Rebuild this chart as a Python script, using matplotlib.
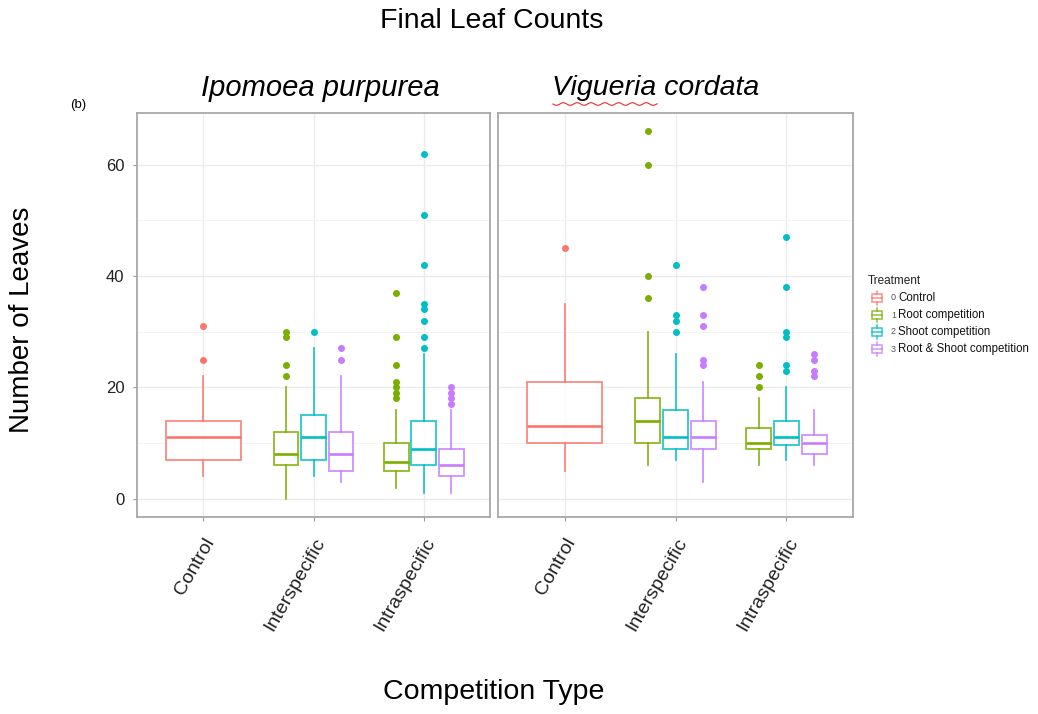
import numpy as np
import matplotlib.pyplot as plt
from matplotlib.patches import Rectangle

plt.rcParams["font.family"] = ["Liberation Sans", "DejaVu Sans"]

# categories
species = ["Ipomoea purpurea", "Vigueria cordata"]
comp_types = ["Control", "Interspecific", "Intraspecific"]
treatments = ["Control", "Root competition", "Shoot competition", "Root & Shoot competition"]
treat_codes = ["0", "1", "2", "3"]
treat_colors = ["#F8766D", "#7CAE00", "#00BFC4", "#C77CFF"]

# (competition type index, treatment index) for each box
groups = [(0, 0), (1, 1), (1, 2), (1, 3), (2, 1), (2, 2), (2, 3)]

# Ipomoea purpurea box statistics
ipo_q1 = [7, 6, 7, 5, 5, 6, 4]
ipo_med = [11, 8, 11, 8, 6.5, 9, 6]
ipo_q3 = [14, 12, 15, 12, 10, 14, 9]
ipo_lo = [4, 0, 4, 3, 2, 1, 1]
ipo_hi = [22, 20, 27, 22, 16, 26, 16]
ipo_fliers = [[25, 31], [22, 24, 29, 30], [30], [25, 27],
              [18, 19, 20, 21, 24, 29, 37],
              [27, 29, 32, 34, 35, 42, 51, 62], [17, 18, 19, 20]]

# Vigueria cordata box statistics
vig_q1 = [10, 10, 9, 9, 9, 9.7, 8]
vig_med = [13, 14, 11, 11, 10, 11, 10]
vig_q3 = [21, 18, 16, 14, 12.7, 14, 11.5]
vig_lo = [5, 6, 7, 3, 6, 7, 6]
vig_hi = [35, 30, 26, 21, 18, 20, 16]
vig_fliers = [[45], [36, 40, 60, 66], [30, 32, 33, 42], [24, 25, 31, 33, 38],
              [20, 22, 24], [23, 24, 29, 30, 38, 47], [22, 23, 25, 26]]

W, H = 1038, 714


def rect(x0, y0, x1, y1):
    # pixel box (top-left origin) -> figure fraction rect
    return [x0 / W, 1 - y1 / H, (x1 - x0) / W, (y1 - y0) / H]


def draw_panel(ax, q1, med, q3, lo, hi, fliers, show_y):
    for (c, t), a, m, b, l, h, f in zip(groups, q1, med, q3, lo, hi, fliers):
        if t == 0:
            pos, width = c + 1, 0.68
        else:
            pos, width = c + 1 + (t - 2) * 0.25, 0.225
        col = treat_colors[t]
        stats = [dict(q1=a, med=m, q3=b, whislo=l, whishi=h, fliers=f)]
        ax.bxp(stats, positions=[pos], widths=[width], showcaps=False,
               patch_artist=True, manage_ticks=False,
               boxprops=dict(facecolor="white", edgecolor=col, linewidth=1.3, alpha=0.85),
               medianprops=dict(color=col, linewidth=1.9, solid_capstyle="butt"),
               whiskerprops=dict(color=col, linewidth=1.3, alpha=0.85),
               flierprops=dict(marker="o", markerfacecolor=col, markeredgecolor=col,
                               markersize=4))
    ax.set_xlim(0.4, 3.6)
    ax.set_ylim(-3.3, 69.3)
    ax.set_yticks([0, 20, 40, 60])
    ax.set_yticks([10, 30, 50], minor=True)
    ax.set_xticks([1, 2, 3])
    ax.set_xticklabels(comp_types, rotation=60, ha="right", va="top",
                       rotation_mode="anchor")
    ax.grid(which="major", color="#ebebeb", linewidth=1)
    ax.grid(which="minor", axis="y", color="#f3f3f3", linewidth=0.7)
    ax.set_axisbelow(True)
    for s in ax.spines.values():
        s.set_color("#a8a8a8")
        s.set_linewidth(1.3)
    ax.tick_params(axis="x", length=3, color="#999999", labelsize=14,
                   labelcolor="#222222", pad=10)
    ax.tick_params(axis="y", which="major", length=3, color="#999999",
                   labelsize=12, labelcolor="#222222", pad=6)
    ax.tick_params(axis="y", which="minor", length=0)
    if not show_y:
        ax.tick_params(axis="y", length=0, labelleft=False)


fig = plt.figure(figsize=(W / 100, H / 100), dpi=100)

ax1 = fig.add_axes(rect(137, 113, 490, 517))
draw_panel(ax1, ipo_q1, ipo_med, ipo_q3, ipo_lo, ipo_hi, ipo_fliers, True)
ax2 = fig.add_axes(rect(498, 113, 853, 517))
draw_panel(ax2, vig_q1, vig_med, vig_q3, vig_lo, vig_hi, vig_fliers, False)

# overlay in pixel coordinates for titles and legend
ov = fig.add_axes([0, 0, 1, 1], zorder=-1)
ov.set_xlim(0, W)
ov.set_ylim(H, 0)
ov.axis("off")

ov.text(492, 21, "Final Leaf Counts", fontsize=20.5, ha="center", va="center")
ov.text(78, 105, "(b)", fontsize=9.5, ha="center", va="center")
ov.text(320, 88, species[0], fontsize=21, style="italic", ha="center", va="center")
ov.text(656, 88, species[1], fontsize=20.5, style="italic", ha="center", va="center")
ov.text(22, 320, "Number of Leaves", fontsize=20, rotation=90, ha="center", va="center")
ov.text(494, 692, "Competition Type", fontsize=20.5, ha="center", va="center")

# spell-check squiggle under "Vigueria"
sx = np.linspace(553, 657, 120)
ov.plot(sx, 104 + 1.3 * np.sin((sx - 553) / 2.2), color="#e03030", linewidth=0.8)

# legend
ov.text(868, 281, "Treatment", fontsize=8.5, ha="left", va="center", color="#222222")
for i, (code, lab, col) in enumerate(zip(treat_codes, treatments, treat_colors)):
    yc = 298 + i * 17
    ov.add_patch(Rectangle((872, yc - 4), 10, 8, facecolor="white", edgecolor=col,
                           linewidth=1.1, alpha=0.8))
    ov.plot([872, 882], [yc, yc], color=col, linewidth=1.1, alpha=0.8)
    ov.plot([877, 877], [yc - 7, yc - 4], color=col, linewidth=1.1, alpha=0.8)
    ov.plot([877, 877], [yc + 4, yc + 7], color=col, linewidth=1.1, alpha=0.8)
    ov.text(891, yc, code, fontsize=6.5, ha="left", va="center", color="#555555")
    ov.text(898, yc, lab, fontsize=8.3, ha="left", va="center", color="#111111")

fig.savefig("out.png", dpi=100)
